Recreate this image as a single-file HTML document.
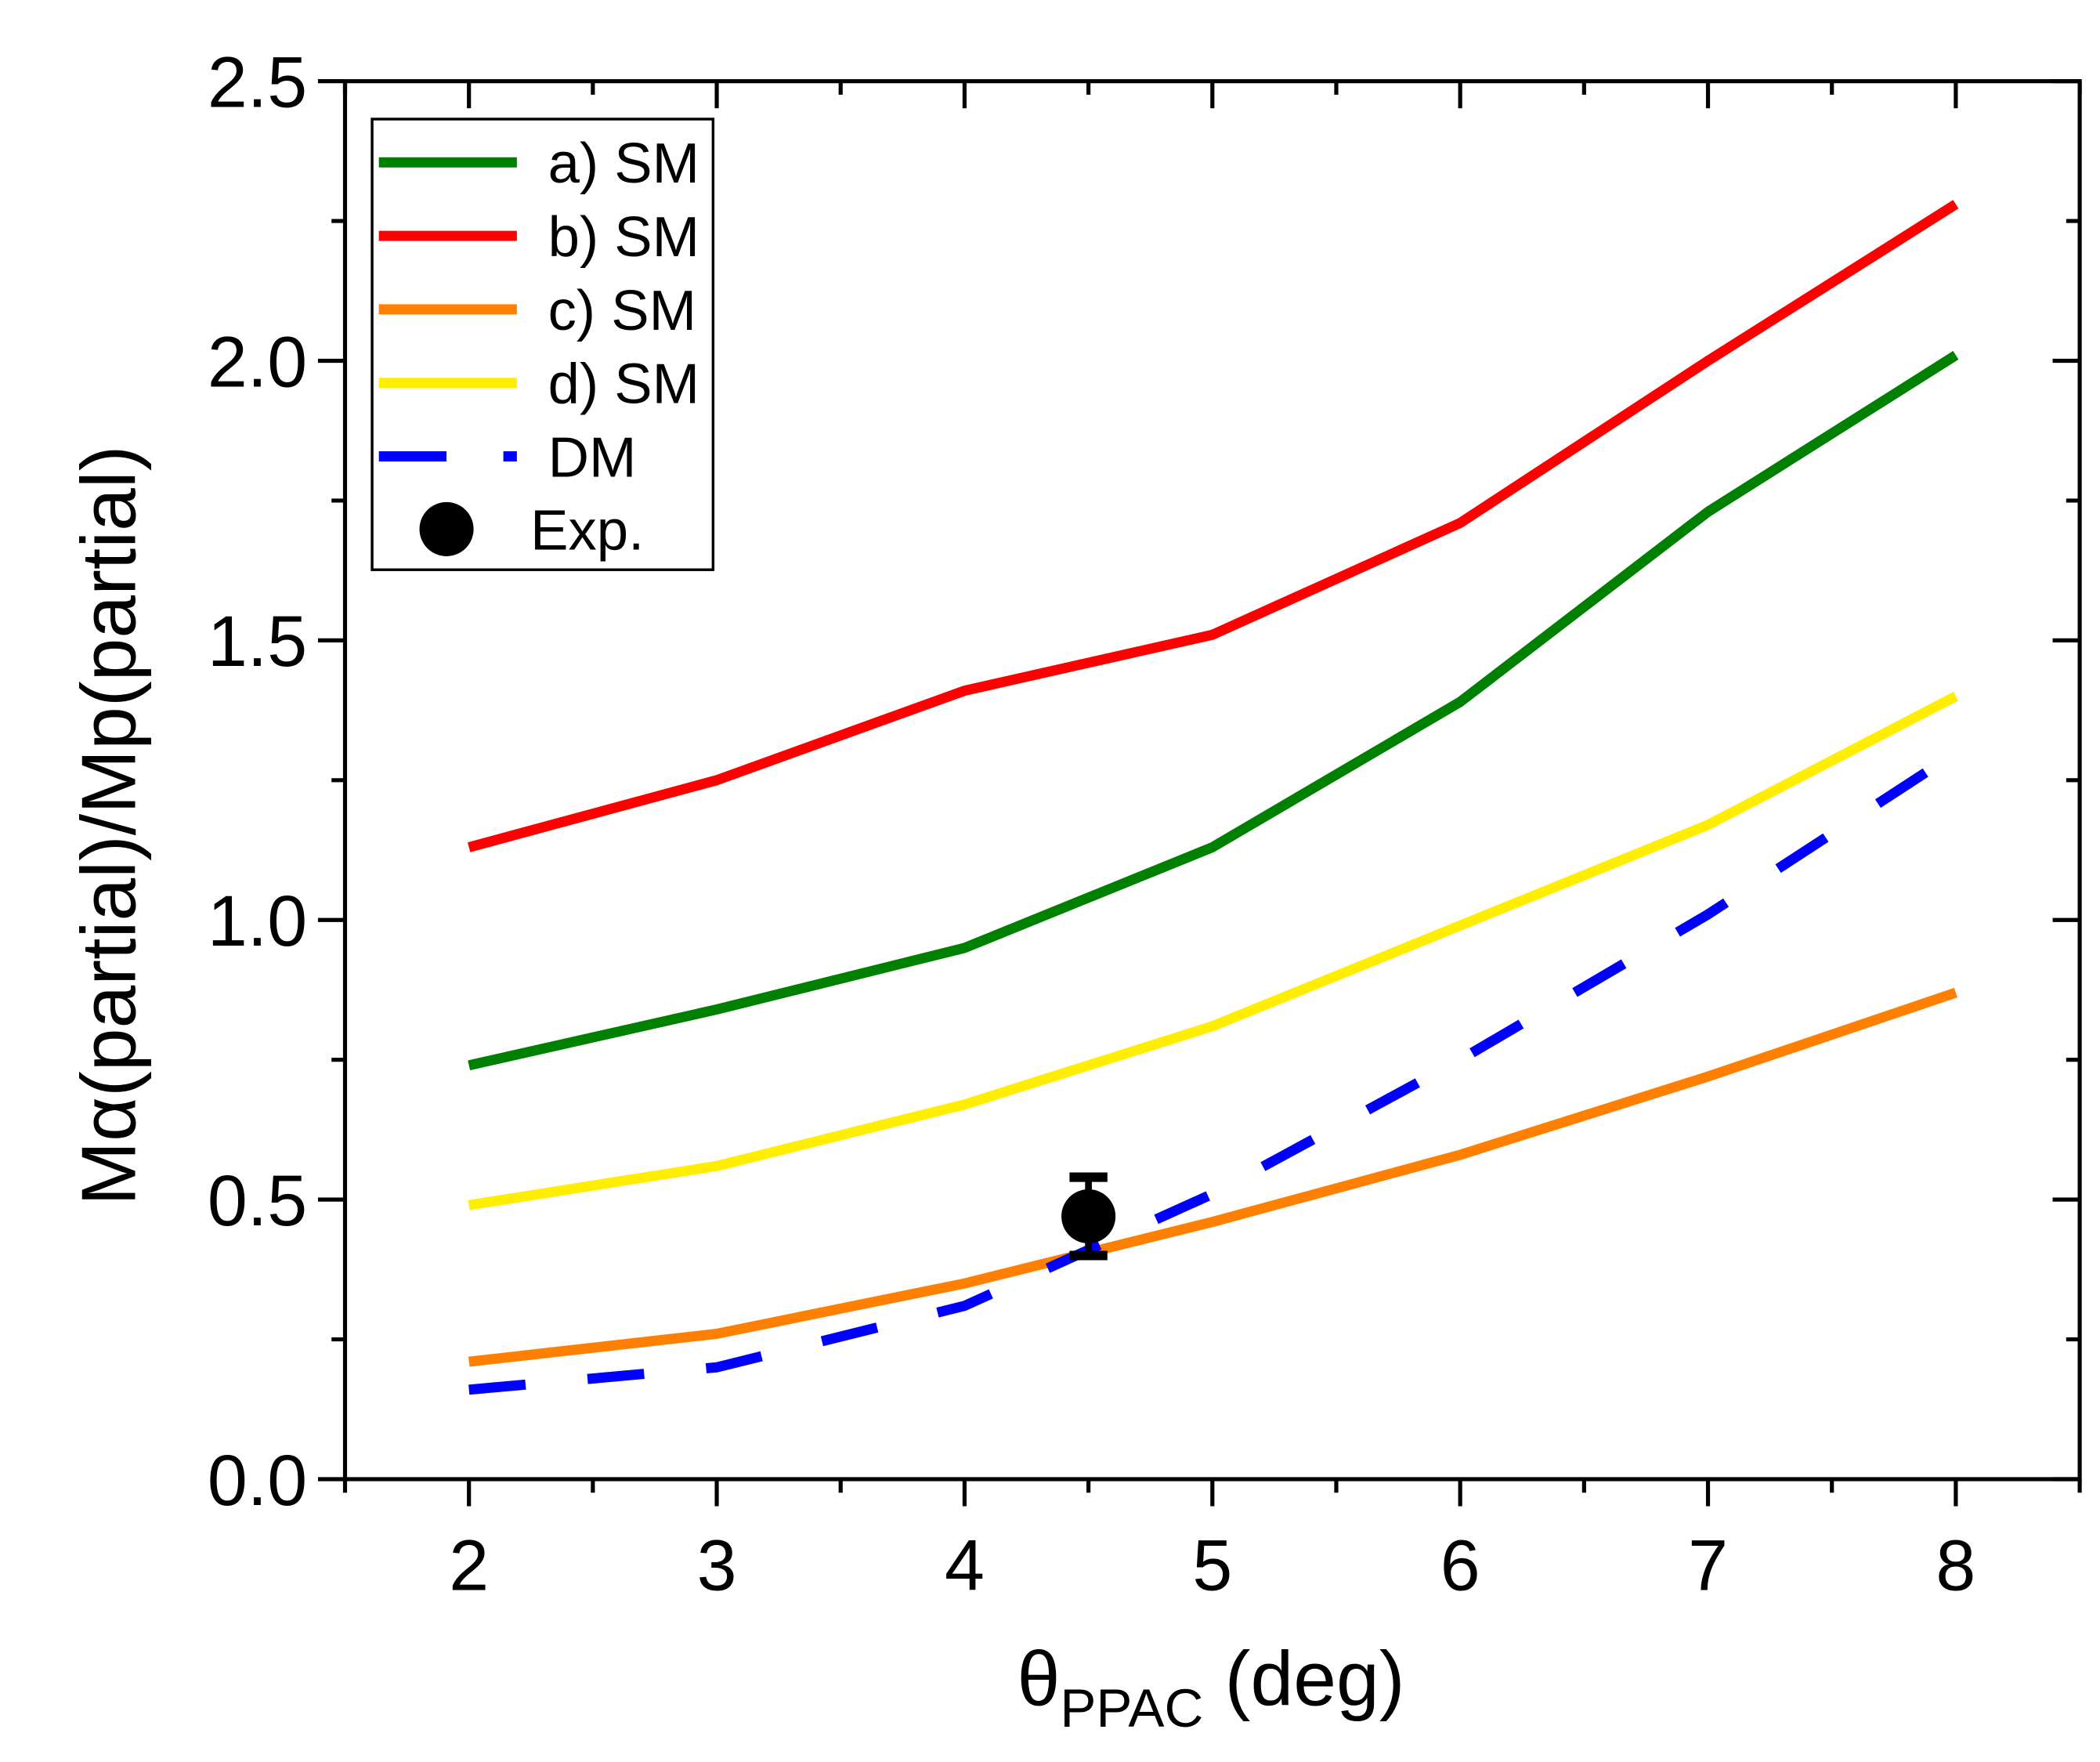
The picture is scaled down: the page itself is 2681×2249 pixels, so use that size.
<!DOCTYPE html>
<html><head><meta charset="utf-8"><style>
html,body{margin:0;padding:0;background:#fff;}
svg{display:block;}
text{font-family:"Liberation Sans",Arial,sans-serif;fill:#000;}
</style></head><body>
<svg id="chart" width="2681" height="2249" viewBox="0 0 1552 1302" preserveAspectRatio="none" xmlns="http://www.w3.org/2000/svg"></svg>
<script>
const xCats=[2,3,4,5,6,7,8];
const seriesA=[0.74,0.84,0.95,1.13,1.39,1.73,2.01];
const seriesB=[1.13,1.25,1.41,1.51,1.71,2.00,2.28];
const seriesC=[0.21,0.26,0.35,0.46,0.58,0.72,0.87];
const seriesD=[0.49,0.56,0.67,0.81,0.99,1.17,1.40];
const dmX=[2,3,4,5,6,7,7.9];
const dmY=[0.16,0.20,0.31,0.51,0.75,1.01,1.27];
const expX=[4.5];
const expY=[0.47];
const expErr=[0.07];
const xTicks=[2,3,4,5,6,7,8];
const yTicks=[0.0,0.5,1.0,1.5,2.0,2.5];
const yTickLabels=["0.0","0.5","1.0","1.5","2.0","2.5"];

const L=255,R=1537,T=60,B=1093;
const X=v=>L+(v-1.5)/(8.5-1.5)*(R-L);
const Y=v=>B-(v/2.5)*(B-T);
const svg=document.getElementById('chart');
const NS='http://www.w3.org/2000/svg';
function mk(tag,attrs,parent){const e=document.createElementNS(NS,tag);for(const k in attrs)e.setAttribute(k,attrs[k]);(parent||svg).appendChild(e);return e;}

function series(xs,ys,color,name,dash){
  const p=mk('polyline',{points:xs.map((x,i)=>X(x)+','+Y(ys[i])).join(' '),fill:'none',stroke:color,'stroke-width':7.5,'stroke-linejoin':'round'});
  if(dash)p.setAttribute('stroke-dasharray',dash);
  
  
}
series(xCats,seriesC,'#ff8000','series-c-sm');
series(xCats,seriesD,'#ffee00','series-d-sm');
series(dmX,dmY,'#0000ff','series-dm','42,46');
series(xCats,seriesA,'#008000','series-a-sm');
series(xCats,seriesB,'#ff0000','series-b-sm');

expX.forEach((x,i)=>{
  const g=mk('g',{});
  
  
  const cx=X(x);
  mk('line',{x1:cx,x2:cx,y1:Y(expY[i]+expErr[i]),y2:Y(expY[i]-expErr[i]),stroke:'#000','stroke-width':5},g);
  mk('line',{x1:cx-14,x2:cx+14,y1:Y(expY[i]+expErr[i]),y2:Y(expY[i]+expErr[i]),stroke:'#000','stroke-width':7},g);
  mk('line',{x1:cx-14,x2:cx+14,y1:Y(expY[i]-expErr[i]),y2:Y(expY[i]-expErr[i]),stroke:'#000','stroke-width':7},g);
  mk('circle',{cx:cx,cy:Y(expY[i]),r:20,fill:'#000'},g);
});

const fr=mk('rect',{x:L,y:T,width:R-L,height:B-T,fill:'none',stroke:'#000','stroke-width':3});



for(let v=1.5;v<=8.5001;v+=0.5){
  const major=Math.abs(v-Math.round(v))<1e-6&&v>=2&&v<=8;
  const len=major?20:10;
  const x=X(v);
  mk('line',{x1:x,x2:x,y1:B,y2:B+len,stroke:'#000','stroke-width':3});
  mk('line',{x1:x,x2:x,y1:T,y2:T+len,stroke:'#000','stroke-width':3});
}
xTicks.forEach(v=>{
  const t=mk('text',{x:X(v),y:B+82,'font-size':53,'text-anchor':'middle'});
  t.textContent=String(v);
  
  
});
for(let v=0;v<=2.5001;v+=0.25){
  const major=Math.abs(v*2-Math.round(v*2))<1e-6;
  const len=major?20:10;
  const y=Y(v);
  mk('line',{x1:L-len,x2:L,y1:y,y2:y,stroke:'#000','stroke-width':3});
  mk('line',{x1:R-len,x2:R,y1:y,y2:y,stroke:'#000','stroke-width':3});
}
yTicks.forEach((v,i)=>{
  const t=mk('text',{x:L-28,y:Y(v)+19,'font-size':53,'text-anchor':'end'});
  t.textContent=yTickLabels[i];
  
  
});

const xt=mk('text',{x:895,y:1260,'font-size':57,'text-anchor':'middle'});
xt.innerHTML='θ<tspan font-size="40" dy="16">PPAC</tspan><tspan dy="-16"> (deg)</tspan>';


const yt=mk('text',{x:0,y:0,'font-size':57,'text-anchor':'middle',transform:'translate(100,610) rotate(-90)'});
yt.textContent='Mα(partial)/Mp(partial)';



const lg=mk('g',{});


mk('rect',{x:275,y:88,width:252,height:333,fill:'#fff',stroke:'#000','stroke-width':2},lg);
const legItems=[['a) SM','#008000',null],['b) SM','#ff0000',null],['c) SM','#ff8000',null],['d) SM','#ffee00',null],['DM','#0000ff','dm']];
legItems.forEach((it,i)=>{
  const y=120+i*54.3;
  const g=mk('g',{},lg);
  
  
  if(it[2]){
    mk('line',{x1:280,x2:330,y1:y,y2:y,stroke:it[1],'stroke-width':7.5},g);
    mk('line',{x1:372,x2:382,y1:y,y2:y,stroke:it[1],'stroke-width':7.5},g);
  } else mk('line',{x1:280,x2:382,y1:y,y2:y,stroke:it[1],'stroke-width':7.5},g);
  const t=mk('text',{x:405,y:y+15,'font-size':42},g);
  t.textContent=it[0];
});
const ge=mk('g',{},lg);


mk('circle',{cx:330,cy:391,r:20,fill:'#000'},ge);
const te=mk('text',{x:392,y:406,'font-size':42},ge);
te.textContent='Exp.';
</script>
</body></html>
